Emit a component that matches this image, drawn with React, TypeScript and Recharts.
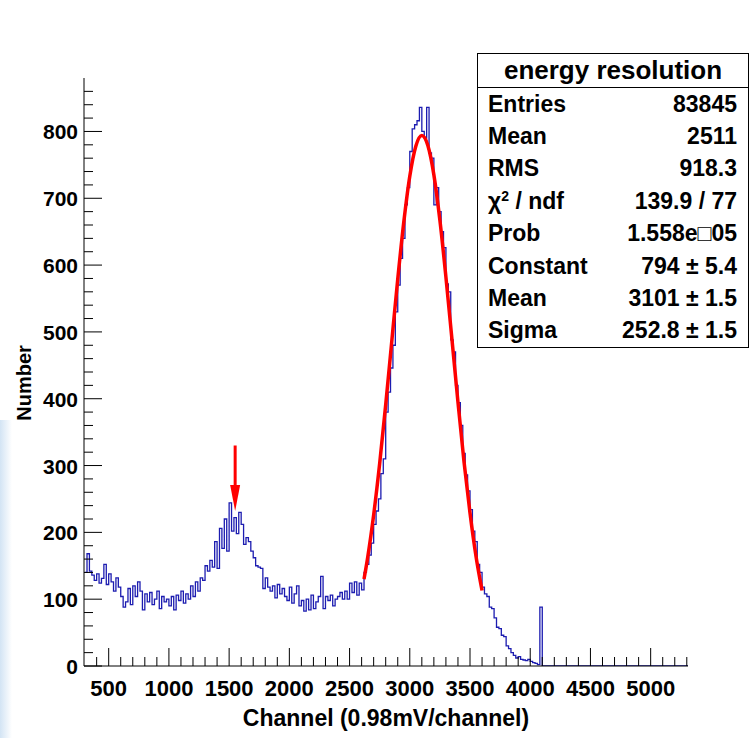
import React from "react";
import { ComposedChart, XAxis, YAxis, Line, ReferenceLine } from "recharts";

const font = "'Liberation Sans', Arial, Helvetica, sans-serif";

// histogram binning (channel)
const binStart = 300;
const binWidth = 20;

// counts per bin (bins 300 .. 4080)
const counts = [
  140, 168, 142, 136, 128, 138, 124, 131, 152, 122,
  138, 126, 112, 132, 118, 104, 88, 96, 116, 92,
  120, 104, 126, 112, 84, 108, 96, 110, 92, 100,
  112, 86, 104, 96, 100, 90, 104, 84, 106, 98,
  112, 94, 108, 100, 120, 104, 126, 112, 132, 128,
  150, 142, 158, 148, 186, 146, 206, 176, 220, 172,
  244, 202, 222, 198, 230, 212, 182, 192, 186, 172,
  162, 150, 148, 146, 116, 132, 118, 112, 120, 102,
  122, 108, 116, 104, 98, 118, 94, 108, 120, 90,
  98, 82, 100, 84, 106, 86, 96, 104, 134, 86,
  104, 98, 106, 90, 100, 104, 110, 100, 112, 100,
  124, 110, 126, 106, 124, 114, 140, 152, 166, 184,
  212, 232, 250, 288, 310, 380, 410, 446, 480, 530,
  570, 610, 640, 690, 716, 770, 804, 810, 816, 836,
  800, 790, 836, 768, 760, 690, 716, 680, 650, 626,
  572, 560, 488, 470, 420, 394, 360, 318, 286, 262,
  234, 202, 186, 152, 140, 118, 108, 104, 88, 86,
  72, 58, 56, 46, 44, 30, 26, 20, 16, 12,
  14, 10, 9, 8, 10, 7, 5, 4, 2, 88,
];

// gaussian fit curve
const fitChannels = [2620, 2650, 2700, 2750, 2800, 2850, 2900, 2950, 3000, 3050, 3100, 3150, 3200, 3250, 3300, 3350, 3400, 3450, 3500, 3550, 3600];
const fitCounts = [130, 162, 226, 303, 391, 485, 579, 664, 733, 778, 794, 779, 735, 667, 582, 489, 395, 306, 229, 164, 113];

// arrow marking the small peak
const arrowChannel = 1550;
const arrowFrom = 330;
const arrowTo = 232;

const xDomain = [295, 5310];
const yDomain = [0, 880];
const xTicks = Array.from({ length: 50 }, (_, i) => 400 + i * 100);
const yTicks = Array.from({ length: 44 }, (_, i) => i * 20);

const stats = [
  ["Entries", "83845"],
  ["Mean", "2511"],
  ["RMS", "918.3"],
  ["chi", "139.9 / 77"],
  ["Prob", "1.558e\u25A105"],
  ["Constant", "794 \u00B1 5.4"],
  ["Mean", "3101 \u00B1 1.5"],
  ["Sigma", "252.8 \u00B1 1.5"],
];

const histData = [
  ...counts.map((c, i) => ({ x: binStart + i * binWidth, y: c })),
  { x: binStart + counts.length * binWidth, y: 0 },
  { x: 5310, y: 0 },
];
const fitData = fitChannels.map((c, i) => ({ x: c, y: fitCounts[i] }));

const XTick = (props: any) => {
  const { x, y, payload } = props;
  const v = payload.value;
  const major = v % 500 === 0;
  return (
    <g>
      <line x1={x} y1={y} x2={x} y2={y - (major ? 18 : 9)} stroke="#000" />
      {major && (
        <text x={x} y={y + 30} textAnchor="middle" fontSize={22} fontWeight="bold" fontFamily={font} fill="#000">
          {v}
        </text>
      )}
    </g>
  );
};

const YTick = (props: any) => {
  const { x, y, payload } = props;
  const v = payload.value;
  const major = v % 100 === 0;
  return (
    <g>
      <line x1={x} y1={y} x2={x + (major ? 18 : 9)} y2={y} stroke="#000" />
      {major && (
        <text x={x - 6} y={y + 8} textAnchor="end" fontSize={21} fontWeight="bold" fontFamily={font} fill="#000">
          {v}
        </text>
      )}
    </g>
  );
};

const Arrow = (props: any) => {
  const { x1, y1, x2, y2 } = props;
  return (
    <g>
      <line x1={x1} y1={y1} x2={x2} y2={y2 - 20} stroke="#ff0000" strokeWidth={3} />
      <polygon points={`${x2 - 5},${y2 - 26} ${x2 + 5},${y2 - 26} ${x2},${y2}`} fill="#ff0000" />
    </g>
  );
};

const StatsBox = () => (
  <div
    style={{
      position: "absolute",
      left: 477,
      top: 53,
      width: 270,
      height: 293,
      border: "1px solid #000",
      background: "#fff",
      fontFamily: font,
      fontWeight: "bold",
      color: "#000",
    }}
  >
    <div style={{ height: 33, borderBottom: "1px solid #000", textAlign: "center", fontSize: 26, lineHeight: "33px" }}>
      energy resolution
    </div>
    {stats.map(([k, v], i) => (
      <div
        key={i}
        style={{
          height: 32.4,
          display: "flex",
          justifyContent: "space-between",
          alignItems: "center",
          padding: "0 11px 0 10px",
          fontSize: 23,
          whiteSpace: "nowrap",
        }}
      >
        <span>
          {k === "chi" ? (
            <>
              {"\u03C7"}
              <sup style={{ fontSize: 14, verticalAlign: 8 }}>2</sup> / ndf
            </>
          ) : (
            k
          )}
        </span>
        <span>{v}</span>
      </div>
    ))}
  </div>
);

export default function App() {
  return (
    <div style={{ position: "absolute", left: 0, top: 0, width: 754, height: 738, background: "#fff", overflow: "hidden" }}>
      <div
        style={{
          position: "absolute",
          left: 0,
          top: 420,
          width: 12,
          height: 318,
          background: "linear-gradient(to right, #d3e4f4, rgba(255,255,255,0))",
        }}
      />
      <ComposedChart width={754} height={738} margin={{ top: 78, right: 66, bottom: 0, left: 0 }}>
        <XAxis
          dataKey="x"
          type="number"
          domain={xDomain}
          ticks={xTicks}
          allowDataOverflow
          interval={0}
          height={72}
          tickSize={0}
          tickMargin={0}
          tickLine={false}
          tick={<XTick />}
          axisLine={{ stroke: "#000" }}
          label={{
            value: "Channel (0.98mV/channel)",
            position: "insideBottom",
            offset: 12,
            fontSize: 23,
            fontWeight: "bold",
            fontFamily: font,
            fill: "#000",
          }}
        />
        <XAxis xAxisId="top" orientation="top" type="number" domain={xDomain} height={0} tick={false} tickLine={false} axisLine={{ stroke: "#000" }} />
        <YAxis
          type="number"
          domain={yDomain}
          ticks={yTicks}
          allowDataOverflow
          interval={0}
          width={84}
          tickSize={0}
          tickMargin={0}
          tickLine={false}
          tick={<YTick />}
          axisLine={{ stroke: "#000" }}
          label={{
            content: () => (
              <text transform="translate(31,383) rotate(-90)" textAnchor="middle" fontSize={20} fontWeight="bold" fontFamily={font} fill="#000">
                Number
              </text>
            ),
          }}
        />
        <YAxis yAxisId="right" orientation="right" type="number" domain={yDomain} width={0} tick={false} tickLine={false} axisLine={{ stroke: "#000" }} />
        <Line
          data={histData}
          dataKey="y"
          type="stepAfter"
          stroke="#1c1cb0"
          strokeWidth={1.3}
          dot={false}
          activeDot={false}
          isAnimationActive={false}
        />
        <Line
          data={fitData}
          dataKey="y"
          type="monotone"
          stroke="#ff0000"
          strokeWidth={3.5}
          dot={false}
          activeDot={false}
          isAnimationActive={false}
        />
        <ReferenceLine
          segment={[
            { x: arrowChannel, y: arrowFrom },
            { x: arrowChannel, y: arrowTo },
          ]}
          shape={<Arrow />}
        />
      </ComposedChart>
      <StatsBox />
    </div>
  );
}
